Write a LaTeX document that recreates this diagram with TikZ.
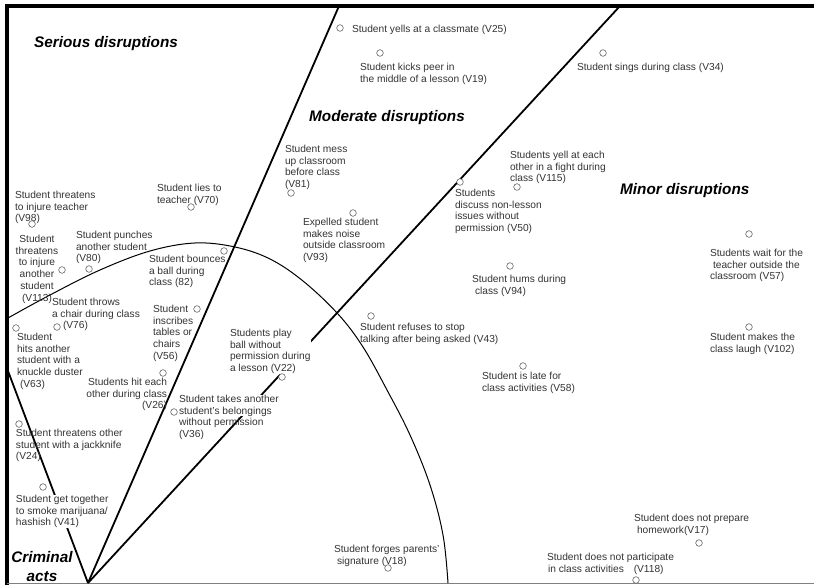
\documentclass[tikz,border=0pt]{standalone}
\usepackage{fontspec}
\setmainfont{Liberation Sans}
\tikzset{
  lbl/.style={inner sep=0pt, outer sep=0pt, align=left, anchor=north west, text=black!80,
    font=\fontsize{10.2}{11.8}\selectfont},
  hide/.style={fill=white},
  head/.style={inner sep=0pt, anchor=base west, font=\fontsize{15.3}{19}\selectfont\bfseries\itshape},
  dot/.style={circle, draw=black!60, line width=0.6pt, fill=white, inner sep=0pt, minimum size=6.6pt},
  border/.style={line width=1.8pt},
}
\begin{document}
\begin{tikzpicture}[x=1pt,y=-1pt]
\useasboundingbox (0,0) rectangle (814,585);
% frame
\draw[line width=3.5pt] (7,585) -- (7,6) -- (814,6);
\draw[black!50, line width=0.8pt] (7,583.5) -- (814,583.5);
% fan of borders
\coordinate (o) at (88,583);
\coordinate (e1) at (8,371);
\coordinate (e2) at (339,6);
\coordinate (e3) at (620,6);
\draw[border] (o) -- (e1);
\draw[border] (o) -- (e2);
\draw[border] (o) -- (e3);
% arc
\draw[line width=1pt] plot[smooth, tension=0.6] coordinates {(8,318) (50,295) (100,270) (150,251) (195,243) (235,247) (270,259) (303,281) (338,314) (363,347) (387,390) (410,435) (430,485) (443,535) (448,583)};
% headings
\node[head] (serious) at (34,48) {Serious disruptions};
\node[head] (moderate) at (309,122) {Moderate disruptions};
\node[head] (minor) at (620,195) {Minor disruptions};
\node[head, anchor=north, align=center] (criminal) at (42,551) {Criminal\\acts};
% items
\node[lbl] (t25) at (352,25) {Student yells at a classmate (V25)};
\node[lbl] (t19) at (360,63) {Student kicks peer in\\the middle of a lesson (V19)};
\node[lbl] (t34) at (577,63) {Student sings during class (V34)};
\node[lbl] (t81) at (285,145) {Student mess\\up classroom\\before class\\(V81)};
\node[lbl] (t115) at (510,151) {Students yell at each\\other in a fight during\\class (V115)};
\node[lbl] (t50) at (455,189) {Students\\discuss non-lesson\\issues without\\permission (V50)};
\node[lbl] (t94) at (472,275) {Student hums during\\\hspace*{3pt}class (V94)};
\node[lbl] (t70) at (157,184) {Student lies to\\teacher (V70)};
\node[lbl] (t98) at (15,191) {Student threatens\\to injure teacher\\(V98)};
\node[lbl, align=center, anchor=north] (t113) at (37,235) {Student\\threatens\\to injure\\another\\student\\(V113)};
\node[lbl] (t80) at (76,231) {Student punches\\another student\\(V80)};
\node[lbl] (t82) at (149,255) {Student bounces\\a ball during\\class (82)};
\node[lbl] (t76) at (52,298) {Student throws\\a chair during class\\\hspace*{11pt}(V76)};
\node[lbl] (t63) at (17,333) {Student\\hits another\\student with a\\knuckle duster\\\hspace*{3pt}(V63)};
\node[lbl] (t56) at (153,305) {Student\\inscribes\\tables or\\chairs\\(V56)};
\node[lbl, align=right, anchor=north east] (t26) at (167,378) {Students hit each\\other during class\\(V26)};
\node[lbl, hide] (t22) at (230,329) {Students play\\ball without\\permission during\\a lesson (V22)};
\node[lbl, hide] (t36) at (179,395) {Student takes another\\student's belongings};
\node[lbl, yshift=-2.3pt] (t36b) at (t36.south west) {without permission\\(V36)};
\node[lbl] (t24) at (16,429) {Student threatens other\\student with a jackknife\\(V24)};
\node[lbl, hide] (t41) at (16,495) {Student get together\\to smoke marijuana/\\hashish (V41)};
\node[lbl] (t93) at (303,218) {Expelled student\\makes noise\\outside classroom\\(V93)};
\node[lbl] (t43) at (360,323) {Student refuses to stop\\talking after being asked (V43)};
\node[lbl] (t58) at (482,372) {Student is late for\\class activities (V58)};
\node[lbl] (t57) at (710,249) {Students wait for the\\\hspace*{3pt}teacher outside the\\classroom (V57)};
\node[lbl] (t102) at (710,333) {Student makes the\\class laugh (V102)};
\node[lbl] (t17) at (634,514) {Student does not prepare\\\hspace*{3pt}homework(V17)};
\node[lbl] (t118) at (547,553) {Student does not participate\\\hspace*{1pt}in class activities\hspace{7pt} (V118)};
\node[lbl] (t18) at (334,545) {Student forges parents'\\\hspace*{3pt}signature (V18)};
% markers
\node[dot] (v25) at (340,28) {};
\node[dot] (v19) at (380,53) {};
\node[dot] (v34) at (603,53) {};
\node[dot] (v81) at (291,193) {};
\node[dot] (v115) at (517,187) {};
\node[dot] (v50) at (460,182) {};
\node[dot] (v94) at (510,266) {};
\node[dot] (v70) at (191,207) {};
\node[dot] (v98) at (32,224) {};
\node[dot] (v113) at (62,270) {};
\node[dot] (v80) at (89,269) {};
\node[dot] (v82) at (224,251) {};
\node[dot] (v76) at (57,327) {};
\node[dot] (v63) at (16,328) {};
\node[dot] (v56) at (197,309) {};
\node[dot] (v26) at (163,373) {};
\node[dot] (v22) at (282,377) {};
\node[dot] (v36) at (174,412) {};
\node[dot] (v24) at (19,424) {};
\node[dot] (v41) at (43,487) {};
\node[dot] (v93) at (353,213) {};
\node[dot] (v43) at (371,316) {};
\node[dot] (v58) at (523,366) {};
\node[dot] (v57) at (749,234) {};
\node[dot] (v102) at (749,327) {};
\node[dot] (v17) at (699,543) {};
\node[dot] (v118) at (636,580) {};
\node[dot] (v18) at (388,568) {};
\end{tikzpicture}
\end{document}
